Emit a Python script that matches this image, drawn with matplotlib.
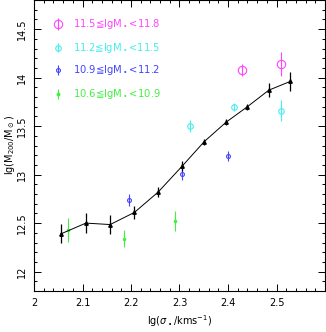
import matplotlib
matplotlib.use("Agg")
import matplotlib.pyplot as plt
from matplotlib.ticker import MultipleLocator

plt.rcParams['font.family'] = ['DejaVu Sans']
plt.rcParams['mathtext.fontset'] = 'dejavusans'

# all-galaxy relation (black)
x_all = [2.056, 2.107, 2.157, 2.207, 2.256, 2.306, 2.351, 2.396, 2.440, 2.484, 2.528]
y_all = [12.39, 12.50, 12.485, 12.61, 12.82, 13.09, 13.34, 13.54, 13.70, 13.87, 13.96]
e_all = [0.10, 0.10, 0.10, 0.07, 0.05, 0.05, 0.03, 0.03, 0.03, 0.07, 0.10]

# stellar-mass bins
x_m1 = [2.428, 2.509]
y_m1 = [14.08, 14.14]
e_m1 = [0.06, 0.12]

x_m2 = [2.321, 2.413, 2.509]
y_m2 = [13.50, 13.70, 13.66]
e_m2 = [0.06, 0.04, 0.11]

x_m3 = [2.195, 2.306, 2.399]
y_m3 = [12.74, 13.01, 13.19]
e_m3 = [0.06, 0.07, 0.05]

x_m4 = [2.071, 2.186, 2.291]
y_m4 = [12.43, 12.34, 12.52]
e_m4 = [0.12, 0.09, 0.10]

labels = ["11.5≦lgM$_\\bullet$<11.8", "11.2≦lgM$_\\bullet$<11.5",
          "10.9≦lgM$_\\bullet$<11.2", "10.6≦lgM$_\\bullet$<10.9"]

c_mag = '#ff44ff'
c_cyan = '#44eeee'
c_blue = '#4444ff'
c_green = '#44ee44'

fig = plt.figure(figsize=(3.26, 3.32), dpi=100)
ax = fig.add_axes([34/326, (332-291)/332, 291/326, 291/332])

ax.errorbar(x_all, y_all, yerr=e_all, color='black', lw=0.7, elinewidth=0.9,
            marker='^', ms=2.5, capsize=0, zorder=3)

ax.errorbar(x_m1, y_m1, yerr=e_m1, fmt='o', mfc='none', mec=c_mag, ms=6, mew=0.8,
            ecolor=c_mag, elinewidth=0.8, capsize=0)
ax.errorbar(x_m2, y_m2, yerr=e_m2, fmt='o', mfc='none', mec=c_cyan, ms=4, mew=0.8,
            ecolor=c_cyan, elinewidth=0.8, capsize=0)
ax.errorbar(x_m3, y_m3, yerr=e_m3, fmt='o', mfc='none', mec=c_blue, ms=2.8, mew=0.8,
            ecolor=c_blue, elinewidth=0.8, capsize=0)
ax.errorbar(x_m4, y_m4, yerr=e_m4, fmt='o', mfc=c_green, mec=c_green, ms=2, mew=0.6,
            ecolor=c_green, elinewidth=0.8, capsize=0)

# legend drawn manually
leg_y = [14.55, 14.31, 14.08, 13.83]
leg_x = 2.049
specs = [(c_mag, 6, 'none', 0.06), (c_cyan, 4, 'none', 0.05),
         (c_blue, 2.8, 'none', 0.05), (c_green, 2, c_green, 0.05)]
for (c, ms, fc, e), yy, lab in zip(specs, leg_y, labels):
    ax.errorbar([leg_x], [yy], yerr=[e], fmt='o', mfc=fc, mec=c, ms=ms, mew=0.8,
                ecolor=c, elinewidth=0.8, capsize=0)
    ax.text(2.081, yy, lab, color=c, fontsize=7.2, va='center', ha='left')

ax.set_xlim(2.0, 2.6)
ax.set_ylim(11.8, 14.8)
ax.xaxis.set_minor_locator(MultipleLocator(0.02))
ax.yaxis.set_minor_locator(MultipleLocator(0.1))
ax.tick_params(which='both', direction='in', top=True, right=True, width=0.7)
ax.tick_params(which='major', length=5, labelsize=7, pad=5)
ax.tick_params(which='minor', length=2.5)
ax.set_xticks([2.0, 2.1, 2.2, 2.3, 2.4, 2.5])
ax.set_xticklabels(['2', '2.1', '2.2', '2.3', '2.4', '2.5'])
ax.set_yticks([12, 12.5, 13, 13.5, 14, 14.5])
ax.set_yticklabels(['12', '12.5', '13', '13.5', '14', '14.5'], rotation=90, va='center')
for s in ax.spines.values():
    s.set_linewidth(0.8)

ax.set_xlabel('lg($\\sigma_\\bullet$/kms$^{-1}$)', fontsize=7, labelpad=4)
ax.set_ylabel('lg(M$_{200}$/M$_\\odot$)', fontsize=7, labelpad=0)

fig.savefig('out.png', dpi=100)
